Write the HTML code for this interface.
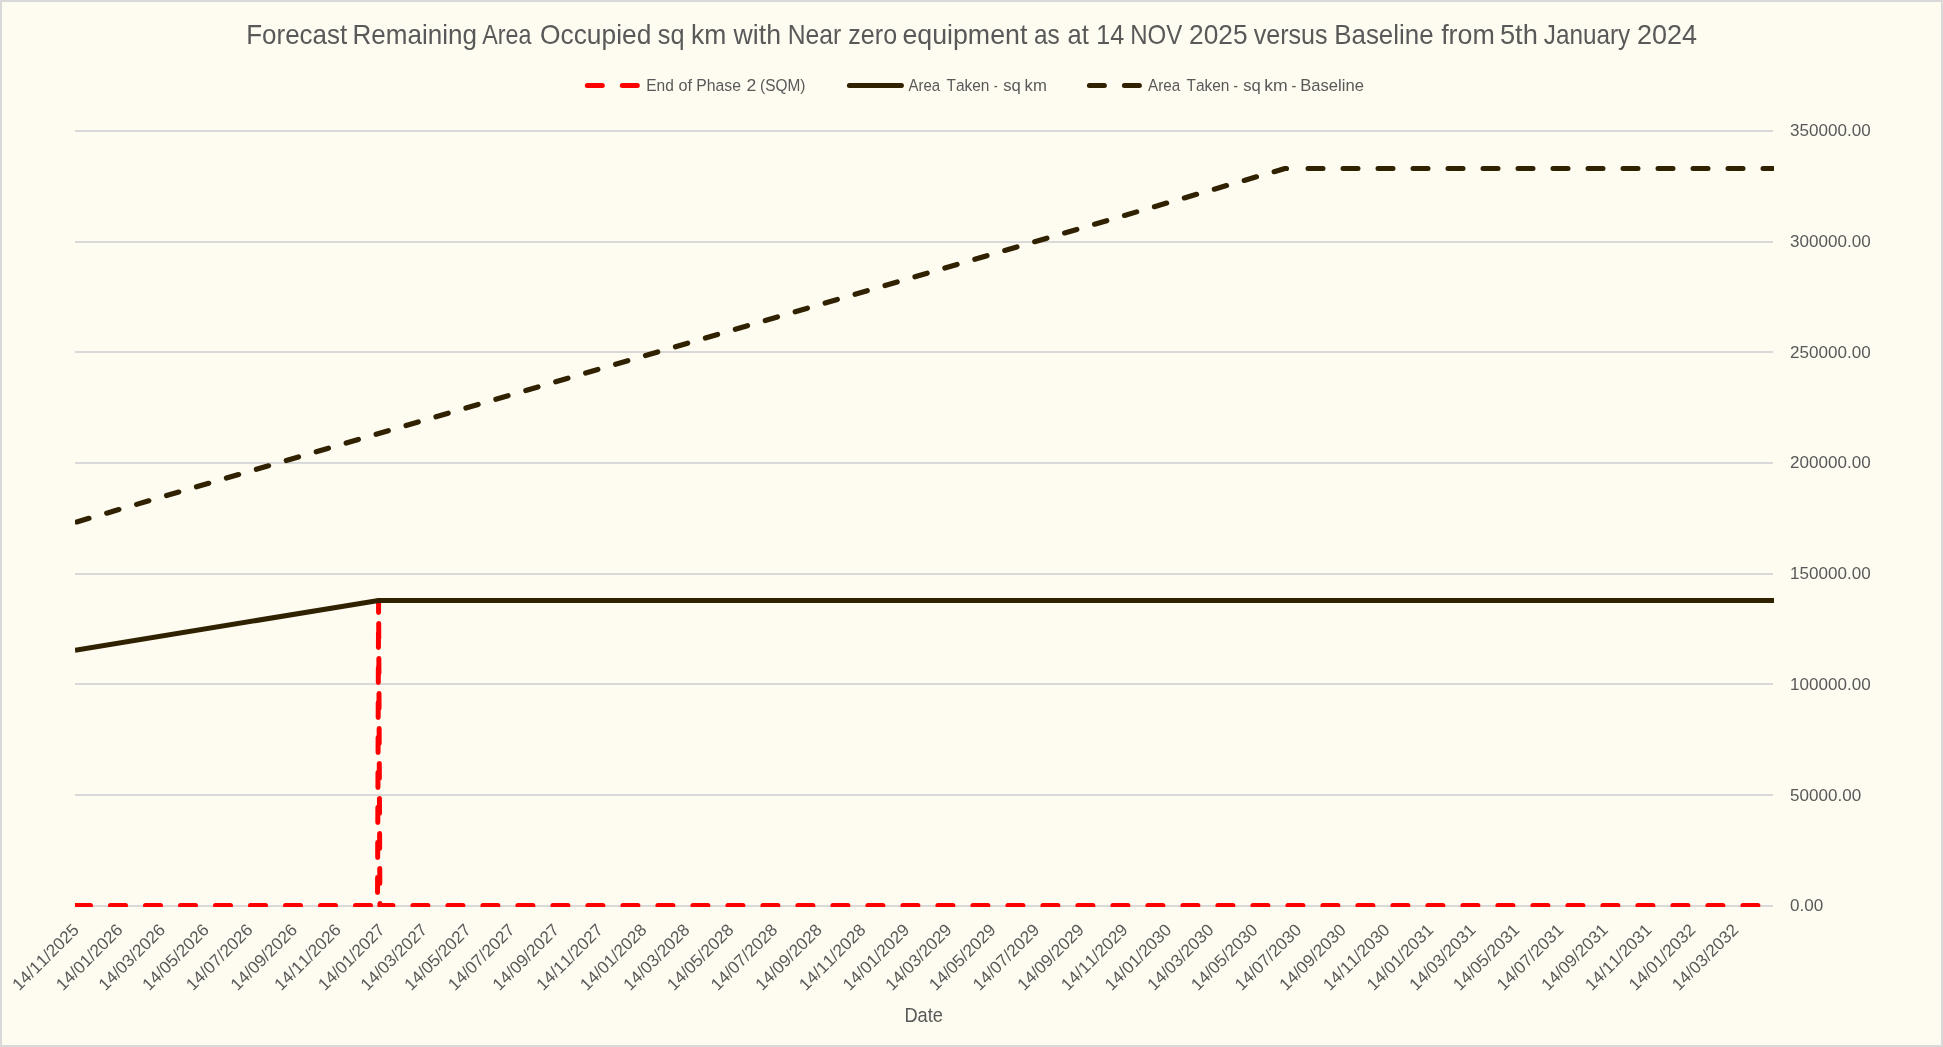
<!DOCTYPE html>
<html><head><meta charset="utf-8"><title>Forecast Remaining Area Occupied</title>
<style>html,body{margin:0;padding:0;background:#FEFBF0;}body{width:1943px;height:1047px;overflow:hidden;font-family:"Liberation Sans", sans-serif;}svg{display:block;will-change:transform;}text{font-family:"Liberation Sans", sans-serif;fill:#595959;font-kerning:none;}</style>
</head><body>
<svg width="1943" height="1047" viewBox="0 0 1943 1047">
<defs><clipPath id="plot"><rect x="75" y="100" width="1699" height="807"/></clipPath></defs>
<rect x="0" y="0" width="1943" height="1047" fill="#D9D9D9"/>
<rect x="2" y="2" width="1939" height="1043" fill="#FEFBF0"/>
<text y="43.7" font-size="27.4"><tspan x="246.20" textLength="101.00" lengthAdjust="spacingAndGlyphs">Forecast</tspan> <tspan x="352.58" textLength="124.38" lengthAdjust="spacingAndGlyphs">Remaining</tspan> <tspan x="482.18" textLength="49.18" lengthAdjust="spacingAndGlyphs">Area</tspan> <tspan x="539.96" textLength="111.46" lengthAdjust="spacingAndGlyphs">Occupied</tspan> <tspan x="657.76" textLength="26.70" lengthAdjust="spacingAndGlyphs">sq</tspan> <tspan x="691.12" textLength="35.26" lengthAdjust="spacingAndGlyphs">km</tspan> <tspan x="733.60" textLength="47.36" lengthAdjust="spacingAndGlyphs">with</tspan> <tspan x="787.66" textLength="53.54" lengthAdjust="spacingAndGlyphs">Near</tspan> <tspan x="848.34" textLength="48.78" lengthAdjust="spacingAndGlyphs">zero</tspan> <tspan x="902.42" textLength="124.94" lengthAdjust="spacingAndGlyphs">equipment</tspan> <tspan x="1033.96" textLength="25.74" lengthAdjust="spacingAndGlyphs">as</tspan> <tspan x="1067.50" textLength="21.28" lengthAdjust="spacingAndGlyphs">at</tspan> <tspan x="1096.16" textLength="28.00" lengthAdjust="spacingAndGlyphs">14</tspan> <tspan x="1130.16" textLength="52.04" lengthAdjust="spacingAndGlyphs">NOV</tspan> <tspan x="1189.04" textLength="58.58" lengthAdjust="spacingAndGlyphs">2025</tspan> <tspan x="1253.76" textLength="73.86" lengthAdjust="spacingAndGlyphs">versus</tspan> <tspan x="1334.24" textLength="99.30" lengthAdjust="spacingAndGlyphs">Baseline</tspan> <tspan x="1441.18" textLength="53.66" lengthAdjust="spacingAndGlyphs">from</tspan> <tspan x="1499.92" textLength="37.92" lengthAdjust="spacingAndGlyphs">5th</tspan> <tspan x="1543.76" textLength="86.48" lengthAdjust="spacingAndGlyphs">January</tspan> <tspan x="1636.96" textLength="60.12" lengthAdjust="spacingAndGlyphs">2024</tspan></text>
<line x1="587.3" y1="85.5" x2="637.7" y2="85.5" stroke="#FF0000" stroke-width="5" stroke-linecap="round" stroke-dasharray="15 20"/>
<text y="90.9" font-size="16.3"><tspan x="646.28" textLength="27.60" lengthAdjust="spacingAndGlyphs">End</tspan> <tspan x="678.58" textLength="13.58" lengthAdjust="spacingAndGlyphs">of</tspan> <tspan x="696.28" textLength="44.72" lengthAdjust="spacingAndGlyphs">Phase</tspan> <tspan x="746.50" textLength="9.76" lengthAdjust="spacingAndGlyphs">2</tspan> <tspan x="760.08" textLength="45.30" lengthAdjust="spacingAndGlyphs">(SQM)</tspan></text>
<text y="90.9" font-size="16.3"><tspan x="908.46" textLength="31.70" lengthAdjust="spacingAndGlyphs">Area</tspan> <tspan x="946.46" textLength="42.92" lengthAdjust="spacingAndGlyphs">Taken</tspan> <tspan x="994.00" textLength="3.54" lengthAdjust="spacingAndGlyphs">-</tspan> <tspan x="1003.16" textLength="17.64" lengthAdjust="spacingAndGlyphs">sq</tspan> <tspan x="1024.62" textLength="22.26" lengthAdjust="spacingAndGlyphs">km</tspan></text>
<text y="90.9" font-size="16.3"><tspan x="1148.00" textLength="32.16" lengthAdjust="spacingAndGlyphs">Area</tspan> <tspan x="1186.46" textLength="42.92" lengthAdjust="spacingAndGlyphs">Taken</tspan> <tspan x="1233.58" textLength="4.46" lengthAdjust="spacingAndGlyphs">-</tspan> <tspan x="1243.16" textLength="17.60" lengthAdjust="spacingAndGlyphs">sq</tspan> <tspan x="1264.20" textLength="23.48" lengthAdjust="spacingAndGlyphs">km</tspan> <tspan x="1291.58" textLength="4.80" lengthAdjust="spacingAndGlyphs">-</tspan> <tspan x="1300.24" textLength="63.68" lengthAdjust="spacingAndGlyphs">Baseline</tspan></text>
<line x1="849.4" y1="85.5" x2="901.4" y2="85.5" stroke="#302200" stroke-width="5" stroke-linecap="round"/>
<line x1="1089.4" y1="85.5" x2="1139.4" y2="85.5" stroke="#302200" stroke-width="5" stroke-linecap="round" stroke-dasharray="15 20"/>
<rect x="75" y="130" width="1698" height="2" fill="#D9D9D9"/>
<text x="1790.1" y="136.30" font-size="17.05">350000.00</text>
<rect x="75" y="241" width="1698" height="2" fill="#D9D9D9"/>
<text x="1790.1" y="247.01" font-size="17.05">300000.00</text>
<rect x="75" y="351" width="1698" height="2" fill="#D9D9D9"/>
<text x="1790.1" y="357.73" font-size="17.05">250000.00</text>
<rect x="75" y="462" width="1698" height="2" fill="#D9D9D9"/>
<text x="1790.1" y="468.44" font-size="17.05">200000.00</text>
<rect x="75" y="573" width="1698" height="2" fill="#D9D9D9"/>
<text x="1790.1" y="579.16" font-size="17.05">150000.00</text>
<rect x="75" y="683" width="1698" height="2" fill="#D9D9D9"/>
<text x="1790.1" y="689.87" font-size="17.05">100000.00</text>
<rect x="75" y="794" width="1698" height="2" fill="#D9D9D9"/>
<text x="1790.1" y="800.59" font-size="17.05">50000.00</text>
<rect x="75" y="905" width="1698" height="2" fill="#D9D9D9"/>
<text x="1790.1" y="911.30" font-size="17.05">0.00</text>
<g clip-path="url(#plot)" fill="none" stroke-linejoin="round">
<path d="M75 905.5 L377.5 905.5 L378.6 600.5 L379.9 905.5 L1775 905.5" stroke="#FF0000" stroke-width="5" stroke-linecap="round" stroke-dasharray="15 20" stroke-dashoffset="-0.5"/>
<path d="M75 650.25 L378.5 600.5 L1775 600.5" stroke="#302200" stroke-width="5" stroke-linecap="butt" stroke-linejoin="miter"/>
<path d="M75 522.4 L1285 168.5 L1288.2 168.5" stroke="#302200" stroke-width="5.2" stroke-linecap="round" stroke-dasharray="12.70 18.49" stroke-dashoffset="-1.83"/>
<path d="M1308.0 168.5 L1773 168.5" stroke="#302200" stroke-width="5" stroke-linecap="round" stroke-dasharray="15 20"/>
</g>
<text font-size="17.15" text-anchor="end" transform="translate(80.00 930.9) rotate(-45)">14/11/2025</text>
<text font-size="17.15" text-anchor="end" transform="translate(123.79 930.9) rotate(-45)">14/01/2026</text>
<text font-size="17.15" text-anchor="end" transform="translate(166.14 930.9) rotate(-45)">14/03/2026</text>
<text font-size="17.15" text-anchor="end" transform="translate(209.92 930.9) rotate(-45)">14/05/2026</text>
<text font-size="17.15" text-anchor="end" transform="translate(253.71 930.9) rotate(-45)">14/07/2026</text>
<text font-size="17.15" text-anchor="end" transform="translate(298.21 930.9) rotate(-45)">14/09/2026</text>
<text font-size="17.15" text-anchor="end" transform="translate(342.00 930.9) rotate(-45)">14/11/2026</text>
<text font-size="17.15" text-anchor="end" transform="translate(385.78 930.9) rotate(-45)">14/01/2027</text>
<text font-size="17.15" text-anchor="end" transform="translate(428.13 930.9) rotate(-45)">14/03/2027</text>
<text font-size="17.15" text-anchor="end" transform="translate(471.92 930.9) rotate(-45)">14/05/2027</text>
<text font-size="17.15" text-anchor="end" transform="translate(515.70 930.9) rotate(-45)">14/07/2027</text>
<text font-size="17.15" text-anchor="end" transform="translate(560.21 930.9) rotate(-45)">14/09/2027</text>
<text font-size="17.15" text-anchor="end" transform="translate(603.99 930.9) rotate(-45)">14/11/2027</text>
<text font-size="17.15" text-anchor="end" transform="translate(647.78 930.9) rotate(-45)">14/01/2028</text>
<text font-size="17.15" text-anchor="end" transform="translate(690.85 930.9) rotate(-45)">14/03/2028</text>
<text font-size="17.15" text-anchor="end" transform="translate(734.63 930.9) rotate(-45)">14/05/2028</text>
<text font-size="17.15" text-anchor="end" transform="translate(778.42 930.9) rotate(-45)">14/07/2028</text>
<text font-size="17.15" text-anchor="end" transform="translate(822.92 930.9) rotate(-45)">14/09/2028</text>
<text font-size="17.15" text-anchor="end" transform="translate(866.71 930.9) rotate(-45)">14/11/2028</text>
<text font-size="17.15" text-anchor="end" transform="translate(910.49 930.9) rotate(-45)">14/01/2029</text>
<text font-size="17.15" text-anchor="end" transform="translate(952.84 930.9) rotate(-45)">14/03/2029</text>
<text font-size="17.15" text-anchor="end" transform="translate(996.63 930.9) rotate(-45)">14/05/2029</text>
<text font-size="17.15" text-anchor="end" transform="translate(1040.42 930.9) rotate(-45)">14/07/2029</text>
<text font-size="17.15" text-anchor="end" transform="translate(1084.92 930.9) rotate(-45)">14/09/2029</text>
<text font-size="17.15" text-anchor="end" transform="translate(1128.71 930.9) rotate(-45)">14/11/2029</text>
<text font-size="17.15" text-anchor="end" transform="translate(1172.49 930.9) rotate(-45)">14/01/2030</text>
<text font-size="17.15" text-anchor="end" transform="translate(1214.84 930.9) rotate(-45)">14/03/2030</text>
<text font-size="17.15" text-anchor="end" transform="translate(1258.63 930.9) rotate(-45)">14/05/2030</text>
<text font-size="17.15" text-anchor="end" transform="translate(1302.41 930.9) rotate(-45)">14/07/2030</text>
<text font-size="17.15" text-anchor="end" transform="translate(1346.92 930.9) rotate(-45)">14/09/2030</text>
<text font-size="17.15" text-anchor="end" transform="translate(1390.70 930.9) rotate(-45)">14/11/2030</text>
<text font-size="17.15" text-anchor="end" transform="translate(1434.49 930.9) rotate(-45)">14/01/2031</text>
<text font-size="17.15" text-anchor="end" transform="translate(1476.84 930.9) rotate(-45)">14/03/2031</text>
<text font-size="17.15" text-anchor="end" transform="translate(1520.62 930.9) rotate(-45)">14/05/2031</text>
<text font-size="17.15" text-anchor="end" transform="translate(1564.41 930.9) rotate(-45)">14/07/2031</text>
<text font-size="17.15" text-anchor="end" transform="translate(1608.91 930.9) rotate(-45)">14/09/2031</text>
<text font-size="17.15" text-anchor="end" transform="translate(1652.70 930.9) rotate(-45)">14/11/2031</text>
<text font-size="17.15" text-anchor="end" transform="translate(1696.49 930.9) rotate(-45)">14/01/2032</text>
<text font-size="17.15" text-anchor="end" transform="translate(1739.55 930.9) rotate(-45)">14/03/2032</text>
<text x="904.4" y="1021.8" font-size="19.9" textLength="38.6" lengthAdjust="spacingAndGlyphs">Date</text>
</svg></body></html>
